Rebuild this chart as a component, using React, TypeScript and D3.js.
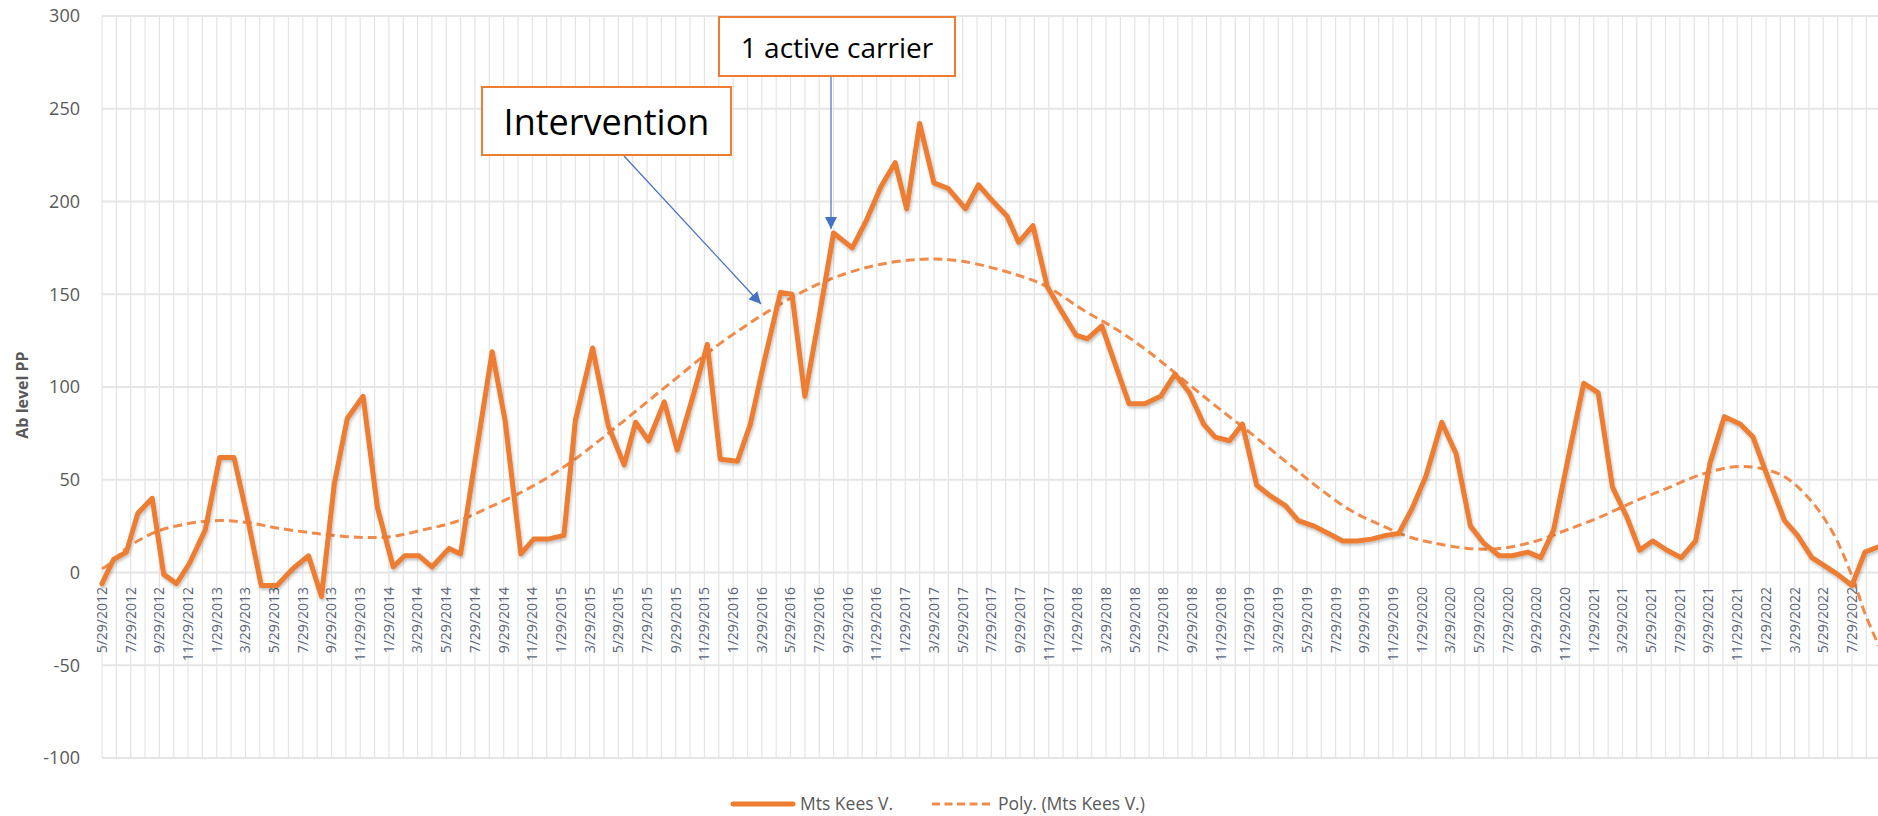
import React from 'react';
import * as d3 from 'd3';

const W = 1878;
const H = 816;

// month offset from 5/29/2012 and Ab level
const monthPos = [
  0, 0.8, 1.7, 2.5, 3.5, 4.3, 5.2, 6.1, 7.2, 8.2, 9.2, 10.1, 11.1, 12.2, 13.3, 14.4, 15.3, 16.2,
  17.1, 18.2, 19.2, 20.3, 21.1, 22.1, 23.0, 24.2, 25.0, 26.0, 27.2, 28.1, 29.2, 30.1, 31.1, 32.2,
  33.0, 34.2, 35.3, 36.4, 37.2, 38.1, 39.2, 40.1, 41.2, 42.2, 43.1, 44.3, 45.2, 46.2, 47.3, 48.1,
  49.0, 50.0, 51.0, 52.3, 53.3, 54.3, 55.3, 56.1, 57.0, 58.0, 59.0, 60.2, 61.1, 62.0, 63.1, 63.9,
  64.9, 65.9, 66.8, 67.9, 68.7, 69.7, 70.6, 71.6, 72.7, 73.8, 74.8, 75.8, 76.8, 77.6, 78.6, 79.5,
  80.5, 81.5, 82.5, 83.4, 84.5, 85.5, 86.5, 87.5, 88.5, 89.5, 90.4, 91.3, 92.3, 93.4, 94.4, 95.4,
  96.3, 97.4, 98.3, 99.4, 100.3, 101.2, 102.3, 103.3, 104.3, 105.3, 106.3, 107.2, 108.1, 109.1,
  110.1, 111.1, 112.1, 113.1, 114.2, 115.1, 116.1, 117.3, 118.2, 119.2, 120.2, 121.0, 122.0, 122.9,
  123.9,
];
const values = [
  -6, 7, 11, 32, 40, -1, -6, 5, 23, 62, 62, 31, -7, -7, 2, 9, -13, 48,
  83, 95, 35, 3, 9, 9, 3, 13, 10, 60, 119, 82, 10, 18, 18, 20,
  82, 121, 79, 58, 81, 71, 92, 66, 95, 123, 61, 60, 80, 115, 151, 150,
  95, 138, 183, 175, 190, 208, 221, 196, 242, 210, 207, 196, 209, 201, 192, 178,
  187, 154, 142, 128, 126, 133, 113, 91, 91, 95, 107, 97, 80, 73, 71, 80,
  47, 41, 36, 28, 25, 21, 17, 17, 18, 20, 21, 34, 52, 81, 64, 25,
  16, 9, 9, 11, 8, 23, 65, 102, 97, 46, 30, 12, 17, 12,
  8, 17, 59, 84, 80, 73, 52, 28, 20, 8, 3, -1, -7, 11,
  14,
];

// polynomial trendline, sampled along the dashed curve
const trendPos = [
  0, 0.6, 1.7, 3.8, 6.1, 8.2, 10.1, 12.2, 15.0, 17.8, 20.1, 22.4, 24.7, 27.1, 29.9, 32.6, 36.1,
  39.6, 43.1, 46.6, 50.1, 53.6, 57.0, 59.8, 63.8, 65.9, 68.4, 70.8, 73.1, 75.4, 77.7, 80.1, 82.4,
  84.7, 87.0, 89.4, 91.2, 92.8, 95.2, 97.5, 99.8, 102.1, 104.5, 106.8, 109.1, 111.4, 113.8, 115.6,
  117.3, 119.1, 120.7, 122.1, 122.9, 123.9,
];
const trendVals = [
  2, 5, 13, 22, 26.5, 28, 27, 24, 21, 19, 19.3, 23, 27.5, 35.5, 46, 59, 80,
  102, 123.5, 141.5, 156, 165, 168.8, 168, 160.4, 154, 141.5, 130.7, 118.2, 103.8, 89.4, 75, 60.6,
  46.3, 33.7, 24.7, 19, 16, 13, 13, 16.6, 22.9, 30.1, 38.2, 45.4, 52.6, 57, 56.2,
  51.6, 39.1, 21, -4, -22, -40,
];

const tickLabels = [
  '5/29/2012', '7/29/2012', '9/29/2012', '11/29/2012',
  '1/29/2013', '3/29/2013', '5/29/2013', '7/29/2013', '9/29/2013', '11/29/2013',
  '1/29/2014', '3/29/2014', '5/29/2014', '7/29/2014', '9/29/2014', '11/29/2014',
  '1/29/2015', '3/29/2015', '5/29/2015', '7/29/2015', '9/29/2015', '11/29/2015',
  '1/29/2016', '3/29/2016', '5/29/2016', '7/29/2016', '9/29/2016', '11/29/2016',
  '1/29/2017', '3/29/2017', '5/29/2017', '7/29/2017', '9/29/2017', '11/29/2017',
  '1/29/2018', '3/29/2018', '5/29/2018', '7/29/2018', '9/29/2018', '11/29/2018',
  '1/29/2019', '3/29/2019', '5/29/2019', '7/29/2019', '9/29/2019', '11/29/2019',
  '1/29/2020', '3/29/2020', '5/29/2020', '7/29/2020', '9/29/2020', '11/29/2020',
  '1/29/2021', '3/29/2021', '5/29/2021', '7/29/2021', '9/29/2021', '11/29/2021',
  '1/29/2022', '3/29/2022', '5/29/2022', '7/29/2022',
];
const yTicks = [300, 250, 200, 150, 100, 50, 0, -50, -100];

const ORANGE = '#ED7D31';
const TREND = '#F08B4C';
const BLUE = '#4472C4';
const GREY = '#595959';
const FONT = '"Open Sans", sans-serif';

export default function App() {
  const x = d3.scaleLinear().domain([0, 122]).range([102, 1852]);
  const y = d3.scaleLinear().domain([-100, 300]).range([758, 16]);

  const line = d3.line<number>()
    .x((d, i) => x(monthPos[i]))
    .y(d => y(d));

  const trend = d3.line<number>()
    .x((d, i) => x(trendPos[i]))
    .y(d => y(d))
    .curve(d3.curveCatmullRom);

  const months = d3.range(0, 126);

  return (
    <div style={{ position: 'absolute', left: 0, top: 0 }}>
      <svg width={W} height={H} style={{ display: 'block', background: '#fff' }}>
        <defs>
          <filter id="shadow" x="-5%" y="-5%" width="110%" height="120%">
            <feDropShadow dx="1" dy="2" stdDeviation="1.5" floodColor="#000" floodOpacity="0.25" />
          </filter>
          <marker id="arrow" viewBox="0 0 12 12" refX="12" refY="6" markerWidth="12" markerHeight="12"
            markerUnits="userSpaceOnUse" orient="auto">
            <path d="M0,0 L12,6 L0,12 Z" fill={BLUE} />
          </marker>
        </defs>

        {/* gridlines */}
        <g>
          {months.map(m => (
            <line key={'v' + m} x1={x(m)} x2={x(m)} y1={y(300)} y2={y(-100)}
              stroke="#e4e4e4" strokeWidth={1.2} />
          ))}
          {yTicks.map(t => (
            <line key={'h' + t} x1={x(0)} x2={W} y1={y(t)} y2={y(t)}
              stroke="#e6e6e6" strokeWidth={2} />
          ))}
        </g>

        {/* y axis */}
        <g fontFamily={FONT} fontSize={18} fill={GREY}>
          {yTicks.map(t => (
            <text key={t} x={80} y={y(t)} dy="0.35em" textAnchor="end">{t}</text>
          ))}
        </g>
        <text transform={`translate(22,395) rotate(-90)`} textAnchor="middle" dy="0.35em"
          fontFamily={FONT} fontSize={16} fontWeight="bold" fill={GREY}>Ab level PP</text>

        {/* x axis labels */}
        <g fontFamily={FONT} fontSize={14} fill="#586376">
          {tickLabels.map((l, i) => (
            <text key={l} transform={`translate(${x(i * 2)},587) rotate(-90)`}
              textAnchor="end" dy="0.35em">{l}</text>
          ))}
        </g>

        {/* series */}
        <path d={trend(trendVals) || ''} fill="none" stroke={TREND} strokeWidth={3}
          strokeDasharray="9 5" />
        <path d={line(values) || ''} fill="none" stroke={ORANGE} strokeWidth={5}
          strokeLinejoin="round" strokeLinecap="round" filter="url(#shadow)" />

        {/* annotations */}
        <line x1={624} y1={156} x2={761} y2={304} stroke={BLUE} strokeWidth={1.2} markerEnd="url(#arrow)" />
        <line x1={831} y1={77} x2={831} y2={229} stroke={BLUE} strokeWidth={1.2} markerEnd="url(#arrow)" />
        <rect x={482} y={87} width={249} height={68} fill="#fff" stroke={ORANGE} strokeWidth={2} />
        <text x={606.5} y={135} textAnchor="middle" fontFamily={FONT} fontSize={36} fill="#000">Intervention</text>
        <rect x={719} y={17} width={236} height={59} fill="#fff" stroke={ORANGE} strokeWidth={2} />
        <text x={837} y={58} textAnchor="middle" fontFamily={FONT} fontSize={28} fill="#000">1 active carrier</text>

        {/* legend */}
        <g fontFamily={FONT} fontSize={17.5} fill={GREY}>
          <line x1={733} x2={793} y1={804} y2={804} stroke={ORANGE} strokeWidth={5} strokeLinecap="round" />
          <text x={800} y={804} dy="0.35em">Mts Kees V.</text>
          <line x1={932} x2={992} y1={804} y2={804} stroke={TREND} strokeWidth={3} strokeDasharray="8 4.5" />
          <text x={998} y={804} dy="0.35em">Poly. (Mts Kees V.)</text>
        </g>
      </svg>
    </div>
  );
}
